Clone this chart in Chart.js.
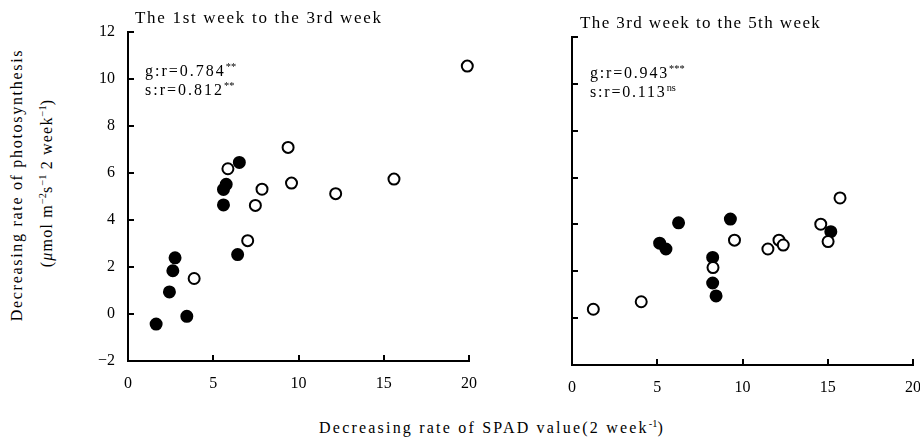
<!DOCTYPE html>
<html><head><meta charset="utf-8">
<script src="https://cdn.jsdelivr.net/npm/chart.js@4/dist/chart.umd.min.js"></script>
<style>
body{margin:0;background:#fff;width:920px;height:443px;overflow:hidden;position:relative;font-family:"Liberation Serif","DejaVu Serif",serif;color:#000}
canvas{position:absolute}
.t{position:absolute;white-space:nowrap;line-height:1}
sup{font-size:65%;vertical-align:0;position:relative;top:-0.55em;letter-spacing:0}
</style></head><body>
<canvas id="c1" width="436" height="400" style="left:60px;top:0"></canvas>
<canvas id="c2" width="420" height="400" style="left:520px;top:0"></canvas>

<div class="t" style="left:135px;top:9px;font-size:17px;letter-spacing:1.7px">The 1st week to the 3rd week</div>
<div class="t" style="left:580px;top:14px;font-size:17px;letter-spacing:1.4px">The 3rd week to the 5th week</div>

<div class="t" style="left:145px;top:63px;font-size:16px;letter-spacing:2px">g:r=0.784<sup>**</sup></div>
<div class="t" style="left:145px;top:82px;font-size:16px;letter-spacing:2px">s:r=0.812<sup>**</sup></div>
<div class="t" style="left:590px;top:65px;font-size:16px;letter-spacing:1.8px">g:r=0.943<sup>***</sup></div>
<div class="t" style="left:590px;top:84px;font-size:16px;letter-spacing:1.8px">s:r=0.113<sup>ns</sup></div>

<div class="t" style="left:17px;top:185px;font-size:16px;letter-spacing:1.7px;transform:translate(-50%,-50%) rotate(-90deg)">Decreasing rate of photosynthesis</div>
<div class="t" style="left:47px;top:183px;font-size:16px;letter-spacing:1.2px;transform:translate(-50%,-50%) rotate(-90deg)">(<i>μ</i>mol m<sup>−2</sup>s<sup>−1</sup> 2 week<sup>−1</sup>)</div>
<div class="t" style="left:492px;top:428px;font-size:16px;letter-spacing:2.2px;transform:translate(-50%,-50%)">Decreasing rate of SPAD value(2 week<sup>-1</sup>)</div>

<script>
// Panel 1: the 1st week to the 3rd week
const p1OpenX = [5.86, 9.39, 7.86, 9.59, 12.18, 15.6, 7.47, 19.9, 7.02, 3.88];
const p1OpenY = [6.18, 7.09, 5.31, 5.57, 5.12, 5.74, 4.62, 10.55, 3.12, 1.51];
const p1FillX = [6.53, 5.6, 5.76, 5.6, 6.43, 2.76, 2.63, 2.43, 3.45, 1.65];
const p1FillY = [6.45, 5.3, 5.52, 4.64, 2.53, 2.39, 1.84, 0.94, -0.1, -0.43];
// Panel 2: the 3rd week to the 5th week
const p2OpenX = [1.25, 4.06, 8.27, 9.53, 11.49, 12.14, 12.39, 14.59, 15.02, 15.72];
const p2OpenY = [0.38, 0.7, 2.16, 3.33, 2.95, 3.33, 3.12, 4.01, 3.27, 5.13];
const p2FillX = [5.14, 5.51, 6.25, 9.29, 8.25, 8.25, 8.45, 15.18];
const p2FillY = [3.2, 2.95, 4.07, 4.23, 2.59, 1.5, 0.95, 3.69];
// Axes
const xMin = 0, xMax = 20, xStep = 5;
const yMin = -2, yMax = 12, yStep = 2;

const FONT = {family: '"Liberation Serif", serif', size: 16};
const pts = (xs, ys) => xs.map((x, i) => ({x, y: ys[i]}));

function makeChart(id, openX, openY, fillX, fillY, cfg) {
  return new Chart(document.getElementById(id), {
    type: 'scatter',
    data: {datasets: [
      {data: pts(openX, openY), pointRadius: 5.5, borderWidth: 2, backgroundColor: '#fff', borderColor: '#000', pointHoverRadius: 5.5, clip: false},
      {data: pts(fillX, fillY), pointRadius: 5.5, borderWidth: 2, backgroundColor: '#000', borderColor: '#000', pointHoverRadius: 5.5, clip: false}
    ]},
    options: {
      responsive: false, animation: false, devicePixelRatio: 1,
      layout: {padding: {top: cfg.top, right: cfg.right, left: 0, bottom: 0}},
      plugins: {legend: {display: false}, tooltip: {enabled: false}},
      scales: {
        x: {type: 'linear', min: xMin, max: xMax,
          ticks: {stepSize: xStep, padding: 19, color: '#000', font: FONT, maxRotation: 0},
          grid: {drawOnChartArea: false, drawTicks: true, tickLength: -6, color: '#000', lineWidth: 2},
          border: {display: true, color: '#000', width: 2},
          afterFit: s => { s.height = cfg.xh; }},
        y: {type: 'linear', min: yMin, max: yMax,
          ticks: {stepSize: yStep, padding: 19, color: '#000', font: FONT, display: cfg.yLabels,
            callback: v => v < 0 ? '\u2212' + (-v) : '' + v},
          grid: {drawOnChartArea: false, drawTicks: true, tickLength: -6, color: '#000', lineWidth: 2},
          border: {display: true, color: '#000', width: 2},
          afterFit: s => { s.width = cfg.yw; }}
      }
    }
  });
}
makeChart('c1', p1OpenX, p1OpenY, p1FillX, p1FillY, {top: 32, right: 12, xh: 39, yw: 68, yLabels: true});
makeChart('c2', p2OpenX, p2OpenY, p2FillX, p2FillY, {top: 37, right: 8, xh: 35, yw: 52, yLabels: false});
</script>
</body></html>
